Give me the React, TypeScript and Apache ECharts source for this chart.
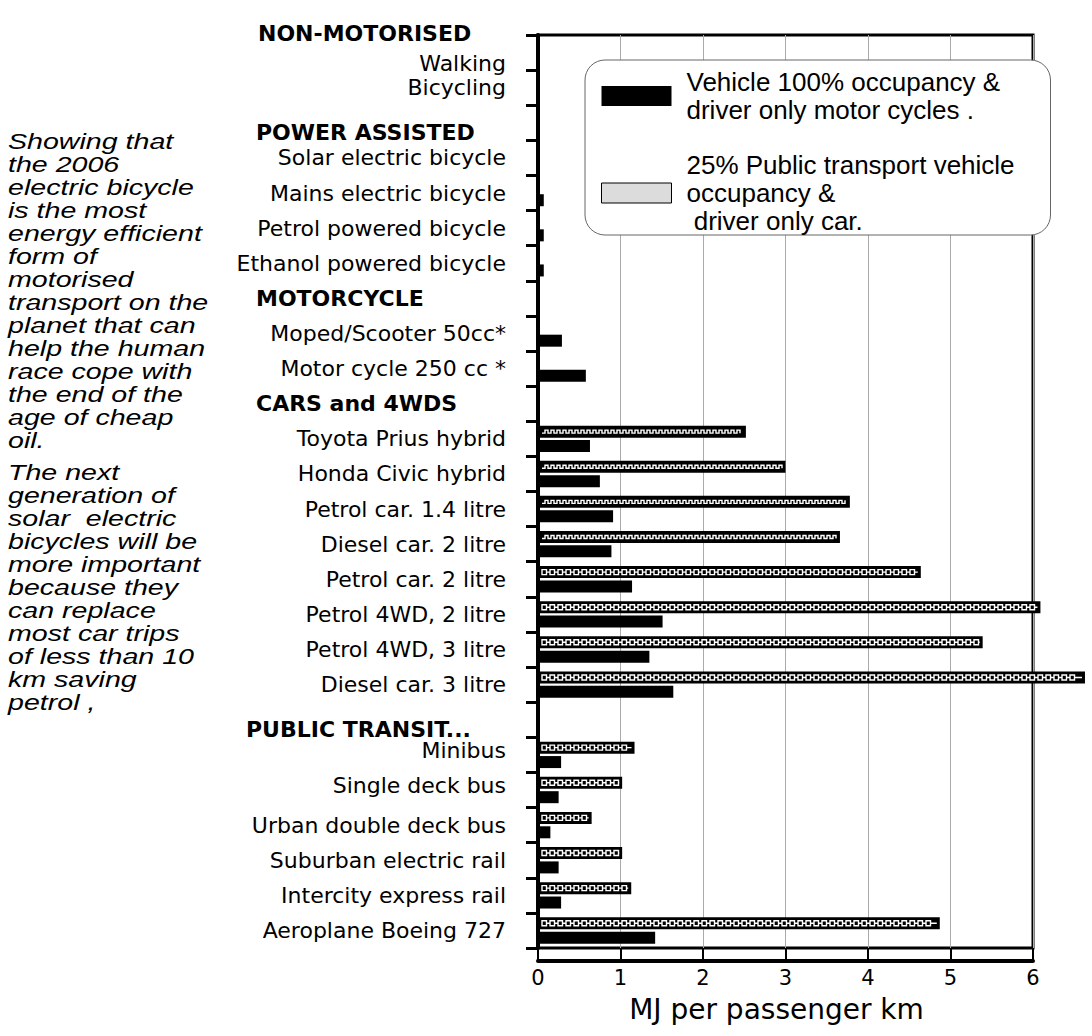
import React, { useEffect, useRef } from "react";
import * as echarts from "echarts";

// ---------- data ----------
const TOP_HEADER = "NON-MOTORISED";
const CATEGORIES = [
  "Walking",
  "Bicycling",
  "POWER ASSISTED",
  "Solar electric bicycle",
  "Mains electric bicycle",
  "Petrol powered bicycle",
  "Ethanol powered bicycle",
  "MOTORCYCLE",
  "Moped/Scooter 50cc*",
  "Motor cycle 250 cc *",
  "CARS and 4WDS",
  "Toyota Prius hybrid",
  "Honda Civic hybrid",
  "Petrol car. 1.4 litre",
  "Diesel car. 2 litre",
  "Petrol car. 2 litre",
  "Petrol 4WD, 2 litre",
  "Petrol 4WD, 3 litre",
  "Diesel car. 3 litre",
  "PUBLIC TRANSIT...",
  "Minibus",
  "Single deck bus",
  "Urban double deck bus",
  "Suburban electric rail",
  "Intercity express rail",
  "Aeroplane Boeing 727",
];
const GROUP_HEADERS = ["POWER ASSISTED", "MOTORCYCLE", "CARS and 4WDS", "PUBLIC TRANSIT..."];

const SERIES_FULL = "Vehicle 100% occupancy & driver only motor cycles .";
const SERIES_LOW = "25% Public transport vehicle occupancy & driver only car.";

// MJ per passenger km, vehicle 100% occupancy / driver-only motorcycles
const FULL_OCCUPANCY = [
  null, null, null, null, 0.07, 0.07, 0.07, null, 0.29, 0.58,
  null, 0.63, 0.75, 0.91, 0.89, 1.14, 1.51, 1.35, 1.64,
  null, 0.28, 0.25, 0.15, 0.25, 0.28, 1.42,
];
// MJ per passenger km, 25% public transport occupancy / driver-only car
const LOW_OCCUPANCY = [
  null, null, null, null, null, null, null, null, null, null,
  null, 2.52, 3.0, 3.78, 3.66, 4.64, 6.09, 5.39, 6.63,
  null, 1.17, 1.02, 0.65, 1.02, 1.13, 4.87,
];

const X_MIN = 0;
const X_MAX = 6;
const X_STEP = 1;
const X_NAME = "MJ per passenger km";

const NOTE_1 = [
  "Showing that",
  "the 2006",
  "electric bicycle",
  "is the most",
  "energy efficient",
  "form of",
  "motorised",
  "transport on the",
  "planet that can",
  "help the human",
  "race cope with",
  "the end of the",
  "age of cheap",
  "oil.",
];
const NOTE_2 = [
  "The next",
  "generation of",
  "solar  electric",
  "bicycles will be",
  "more important",
  "because they",
  "can replace",
  "most car trips",
  "of less than 10",
  "km saving",
  "petrol ,",
];

const LEGEND_TEXT: Record<string, string> = {
  [SERIES_FULL]: "Vehicle 100% occupancy &\ndriver only motor cycles .",
  [SERIES_LOW]: "25% Public transport vehicle\noccupancy &\n driver only car.",
};

// ---------- style constants ----------
const BAR_W = 12;
const BAR_GAP_PX = 2.4;
const WAVE_ROWS = new Set([
  "Toyota Prius hybrid",
  "Honda Civic hybrid",
  "Petrol car. 1.4 litre",
  "Diesel car. 2 litre",
]);
const LABEL_FONT = "DejaVu Sans";

export default function App() {
  const ref = useRef<HTMLDivElement>(null);

  useEffect(() => {
    if (!ref.current) return;
    const chart = echarts.init(ref.current, null, { renderer: "svg" });

    const patternRender = (params: any, api: any) => {
      const v = api.value(0);
      const idx = api.value(1);
      if (v === null || v === undefined || isNaN(v)) return null;
      const p0 = api.coord([0, idx]);
      const p1 = api.coord([v, idx]);
      const cy = p0[1] - (BAR_W / 2 + BAR_GAP_PX / 2);
      const xa = p0[0] + 4;
      const xb = p1[0] - 3;
      const children: any[] = [];
      if (WAVE_ROWS.has(CATEGORIES[idx])) {
        const pts: number[][] = [];
        let yy = cy + 1.5;
        pts.push([xa, yy]);
        for (let x = xa + 3; x <= xb; x += 3) {
          pts.push([x, yy]);
          yy = yy > cy ? cy - 1.5 : cy + 1.5;
          pts.push([x, yy]);
        }
        children.push({
          type: "polyline",
          shape: { points: pts },
          style: { stroke: "#fff", lineWidth: 1.4, fill: null },
        });
      } else {
        children.push({
          type: "line",
          shape: { x1: xa, y1: cy, x2: xb, y2: cy },
          style: { stroke: "#fff", lineWidth: 1.4 },
        });
        for (let x = xa; x + 5 <= xb; x += 8) {
          children.push({
            type: "rect",
            shape: { x: x, y: cy - 2.5, width: 4.5, height: 5 },
            style: { fill: "#000", stroke: "#fff", lineWidth: 1.4 },
          });
        }
      }
      return { type: "group", children };
    };

    const noteStyle = (lines: string[]) => ({
      text: lines.join("\n"),
      fontFamily: "Liberation Sans",
      fontStyle: "italic",
      fontSize: 22,
      lineHeight: 23,
      fill: "#000",
      align: "left",
      verticalAlign: "top",
    });

    const option: any = {
      animation: false,
      backgroundColor: "#fff",
      grid: {
        left: 538,
        top: 35,
        right: 59,
        bottom: 88,
        show: true,
        borderColor: "#000",
        borderWidth: 3,
        backgroundColor: "transparent",
      },
      legend: {
        orient: "vertical",
        left: 585,
        top: 60,
        data: [
          { name: SERIES_FULL, itemStyle: { color: "#000" } },
          {
            name: SERIES_LOW,
            itemStyle: { color: "#dcdcdc", borderColor: "#000", borderWidth: 1 },
          },
        ],
        icon: "rect",
        itemWidth: 70,
        itemHeight: 20,
        itemGap: 27,
        padding: [8, 8, 0, 16],
        backgroundColor: "#fff",
        borderColor: "#666",
        borderWidth: 1,
        borderRadius: 20,
        selectedMode: false,
        formatter: (name: string) => LEGEND_TEXT[name] || name,
        textStyle: {
          fontFamily: "Liberation Sans",
          fontSize: 26,
          lineHeight: 28,
          color: "#000",
          width: 356,
          padding: [0, 0, 0, 10],
        },
      },
      xAxis: {
        type: "value",
        min: X_MIN,
        max: X_MAX,
        interval: X_STEP,
        offset: 13,
        name: X_NAME,
        nameLocation: "middle",
        nameGap: 34,
        nameTextStyle: {
          fontFamily: LABEL_FONT,
          fontSize: 28,
          color: "#000",
          padding: [0, 18, 0, 0],
        },
        axisLine: { show: true, lineStyle: { color: "#000", width: 4 } },
        axisTick: { show: true, inside: true, length: 12, lineStyle: { color: "#000", width: 2 } },
        axisLabel: { fontFamily: LABEL_FONT, fontSize: 21, color: "#000", margin: 6 },
        splitLine: { show: true, lineStyle: { color: "#aaa", width: 1 } },
      },
      yAxis: {
        type: "category",
        inverse: true,
        data: CATEGORIES,
        axisLine: { show: true, lineStyle: { color: "#000", width: 4 } },
        axisTick: { show: true, interval: 0, length: 12, lineStyle: { color: "#000", width: 3 } },
        splitLine: { show: false },
        axisLabel: {
          interval: 0,
          margin: 32,
          formatter: (value: string) => {
            if (value === "Walking") return `{nw|${value}}`;
            if (value === "Minibus" || value === "Single deck bus") return `{nu|${value}}`;
            if (value === "POWER ASSISTED") return `{hs|${value}}`;
            if (value === "PUBLIC TRANSIT...") return `{hp|${value}}`;
            if (GROUP_HEADERS.includes(value)) return `{h|${value}}`;
            return `{n|${value}}`;
          },
          rich: {
            n: { fontFamily: LABEL_FONT, fontSize: 22, color: "#000" },
            nw: { fontFamily: LABEL_FONT, fontSize: 22, color: "#000", padding: [22, 0, 0, 0] },
            nu: { fontFamily: LABEL_FONT, fontSize: 22, color: "#000", padding: [0, 0, 8, 0] },
            h: { fontFamily: LABEL_FONT, fontSize: 22, fontWeight: "bold", color: "#000", width: 250, align: "left" },
            hs: { fontFamily: LABEL_FONT, fontSize: 22, fontWeight: "bold", color: "#000", width: 250, align: "left", padding: [20, 0, 0, 0] },
            hp: { fontFamily: LABEL_FONT, fontSize: 22, fontWeight: "bold", color: "#000", width: 260, align: "left", padding: [20, 0, 0, 0] },
          },
        },
      },
      graphic: [
        {
          type: "text",
          x: 258,
          y: 33,
          style: {
            text: TOP_HEADER,
            fontFamily: LABEL_FONT,
            fontSize: 22,
            fontWeight: "bold",
            fill: "#000",
            align: "left",
            verticalAlign: "middle",
          },
        },
        { type: "text", x: 8, y: 130, scaleX: 1.3, style: noteStyle(NOTE_1) },
        { type: "text", x: 8, y: 461, scaleX: 1.3, style: noteStyle(NOTE_2) },
      ],
      series: [
        {
          name: SERIES_LOW,
          type: "bar",
          data: LOW_OCCUPANCY,
          barWidth: BAR_W,
          barGap: "20%",
          clip: false,
          itemStyle: { color: "#000" },
        },
        {
          name: SERIES_FULL,
          type: "bar",
          data: FULL_OCCUPANCY,
          barWidth: BAR_W,
          barGap: "20%",
          clip: false,
          itemStyle: { color: "#000" },
        },
        {
          name: "pattern",
          type: "custom",
          renderItem: patternRender,
          data: LOW_OCCUPANCY.map((v, i) => [v, i]),
          encode: { x: 0, y: 1 },
          clip: false,
          z: 3,
          silent: true,
        },
      ],
    };

    chart.setOption(option);
    return () => chart.dispose();
  }, []);

  return (
    <div
      ref={ref}
      style={{ position: "fixed", left: 0, top: 0, width: 1092, height: 1036, background: "#fff" }}
    />
  );
}
